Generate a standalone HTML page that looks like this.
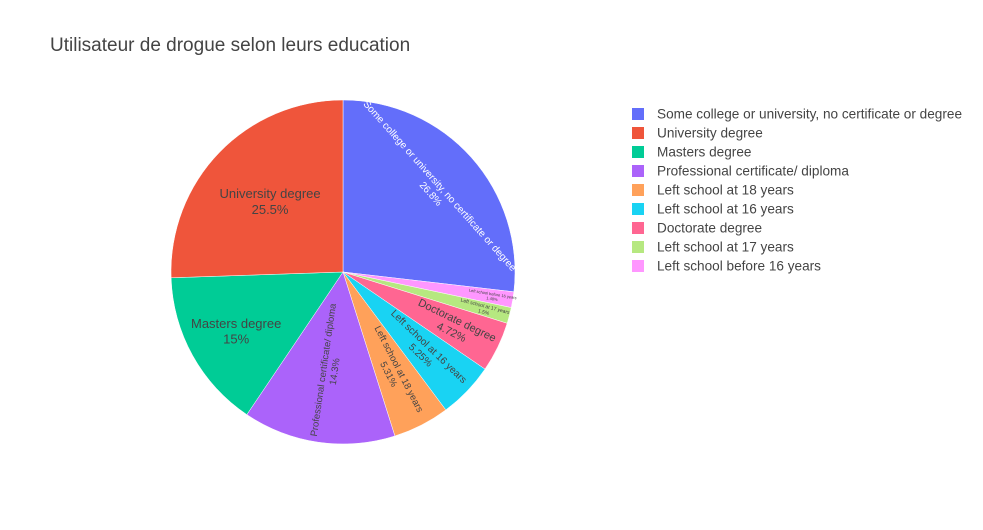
<!DOCTYPE html>
<html><head><meta charset="utf-8"><style>
body{margin:0;background:#fff;font-family:"Liberation Sans",Arial,sans-serif}
svg text{font-family:"Liberation Sans",Arial,sans-serif}
</style></head><body>
<svg id="c" width="983" height="525" xmlns="http://www.w3.org/2000/svg">
<rect width="983" height="525" fill="#fff"/>
<text x="50" y="51" font-size="19" fill="#444">Utilisateur de drogue selon leurs education</text>
<g id="slices"></g><g id="labels"></g><g id="legend"></g>
</svg>
<script>
const categories=["Some college or university, no certificate or degree","University degree","Masters degree","Professional certificate/ diploma","Left school at 18 years","Left school at 16 years","Doctorate degree","Left school at 17 years","Left school before 16 years"];
const values=[26.8,25.5,15,14.3,5.31,5.25,4.72,1.50,1.48];
const labelsPct=["26.8%","25.5%","15%","14.3%","5.31%","5.25%","4.72%","1.5%","1.48%"];
const colors=["#636efa","#EF553B","#00cc96","#ab63fa","#FFA15A","#19d3f3","#FF6692","#B6E880","#FF97FF"];
const drawOrder=[0,8,7,6,5,4,3,2,1];
const orient={0:'t',1:'h',2:'h',3:'r',4:'r',5:'r',6:'r',7:'r',8:'r'};
const fsz={0:10,1:13,2:13,3:9.5,4:9.5,5:10,6:11,7:5,8:4};
const rfrac={0:0.72,1:0.59,2:0.71,3:0.58,4:0.65,5:0.66,6:0.72,7:0.85,8:0.88};
const NS="http://www.w3.org/2000/svg";
const cx=343,cy=272,R=172;
const total=values.reduce((a,b)=>a+b,0);
function pt(th,r){const a=th*Math.PI/180;return[cx+r*Math.sin(a),cy-r*Math.cos(a)];}
const sg=document.getElementById('slices'),lg=document.getElementById('labels');
let acc=0;
drawOrder.forEach(i=>{
 const a0=acc/total*360;acc+=values[i];const a1=acc/total*360;
 const p0=pt(a0,R),p1=pt(a1,R);
 const path=document.createElementNS(NS,'path');
 path.setAttribute('d',`M${cx},${cy}L${p0[0]},${p0[1]}A${R},${R} 0 ${a1-a0>180?1:0} 1 ${p1[0]},${p1[1]}Z`);
 path.setAttribute('fill',colors[i]);path.setAttribute('stroke','#fff');path.setAttribute('stroke-width','0.5');
 
 
 sg.appendChild(path);
 const mid=(a0+a1)/2;const p=pt(mid,R*rfrac[i]);
 let rot=0;
 if(orient[i]=='t')rot=mid;else if(orient[i]=='r')rot=mid-90;
 while(rot>90)rot-=180;while(rot<=-90)rot+=180;
 const g=document.createElementNS(NS,'g');
 g.setAttribute('transform',`translate(${p[0]},${p[1]}) rotate(${rot})`);
 
 
 const col=i==0?'#fff':'#444';const fs=fsz[i];
 [categories[i],labelsPct[i]].forEach((s,k)=>{
  const t=document.createElementNS(NS,'text');
  t.setAttribute('x',0);t.setAttribute('y',(k-0.5)*fs*1.2+fs*0.35);
  t.setAttribute('text-anchor','middle');t.setAttribute('font-size',fs);t.setAttribute('fill',col);
  t.textContent=s;g.appendChild(t);
 });
 lg.appendChild(g);
});
const leg=document.getElementById('legend');
categories.forEach((c,i)=>{
 const y=114+i*19;
 const g=document.createElementNS(NS,'g');
 
 
 const r=document.createElementNS(NS,'rect');
 r.setAttribute('x',632);r.setAttribute('y',y-6);r.setAttribute('width',12);r.setAttribute('height',12);r.setAttribute('fill',colors[i]);
 g.appendChild(r);
 const t=document.createElementNS(NS,'text');
 t.setAttribute('x',657);t.setAttribute('y',y+4.5);t.setAttribute('font-size',13.6);t.setAttribute('fill','#444');t.textContent=c;
 g.appendChild(t);leg.appendChild(g);
});
</script>
</body></html>
